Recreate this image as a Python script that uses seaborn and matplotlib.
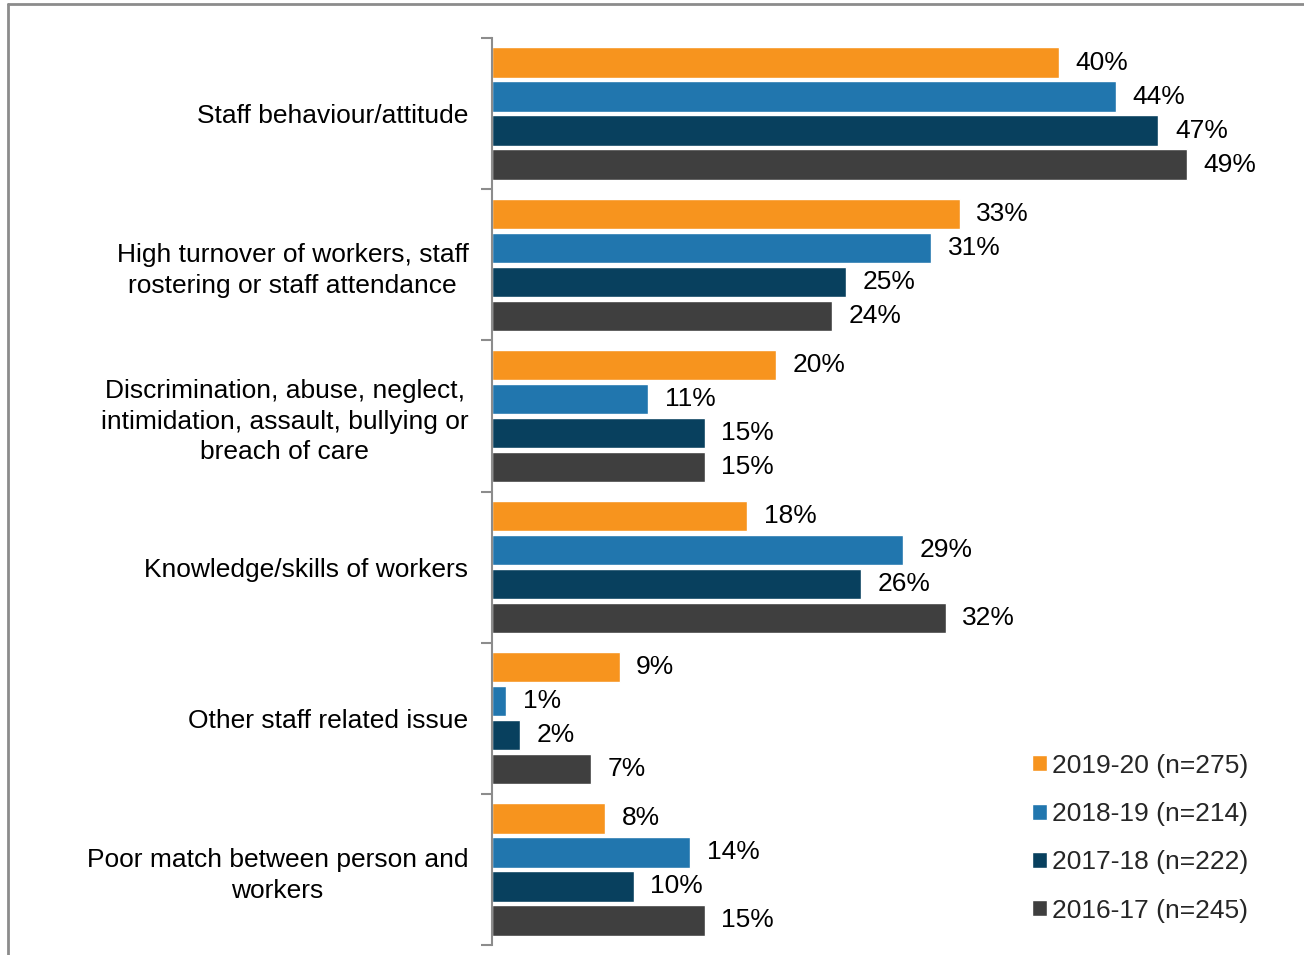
import matplotlib
matplotlib.use("Agg")
import matplotlib.pyplot as plt
from matplotlib.lines import Line2D
import numpy as np
import pandas as pd
import seaborn as sns

categories = [
    "Staff behaviour/attitude",
    "High turnover of workers, staff\nrostering or staff attendance",
    "Discrimination, abuse, neglect,\nintimidation, assault, bullying or\nbreach of care",
    "Knowledge/skills of workers",
    "Other staff related issue",
    "Poor match between person and\nworkers",
]
series = ["2019-20 (n=275)", "2018-19 (n=214)", "2017-18 (n=222)", "2016-17 (n=245)"]
values_2019_20 = [40, 33, 20, 18, 9, 8]
values_2018_19 = [44, 31, 11, 29, 1, 14]
values_2017_18 = [47, 25, 15, 26, 2, 10]
values_2016_17 = [49, 24, 15, 32, 7, 15]
colors = ["#F7941E", "#2176AE", "#08405E", "#3F3F3F"]

all_values = [values_2019_20, values_2018_19, values_2017_18, values_2016_17]
rows = []
for s, vals in zip(series, all_values):
    for c, v in zip(categories, vals):
        rows.append({"category": c, "series": s, "value": v})
df = pd.DataFrame(rows)

sns.set_theme(style="white")
plt.rcParams["font.family"] = ["Liberation Sans", "DejaVu Sans"]

fig = plt.figure(figsize=(13.04, 9.55), dpi=100)
ax = fig.add_axes([492 / 1304, 1 - 945 / 955, (1300 - 492) / 1304, (945 - 38) / 955])

sns.barplot(
    data=df, y="category", x="value", hue="series", order=categories,
    hue_order=series, palette=colors, orient="h", width=0.9, gap=0.11,
    saturation=1, ax=ax, legend=True,
)

for container in ax.containers:
    ax.bar_label(container, labels=[f"{int(v)}%" for v in container.datavalues],
                 padding=12, fontsize=19, color="black")

ax.set_xlim(0, 57)
ax.set_ylim(len(categories) - 0.5, -0.5)
ax.set_xlabel("")
ax.set_ylabel("")
ax.set_xticks([])

# category labels at centres, tick marks at group boundaries
ax.set_yticks(np.arange(len(categories)))
ax.set_yticklabels(categories, fontsize=19, color="black")
for lab in ax.get_yticklabels():
    lab.set_multialignment("center")
    lab.set_linespacing(1.35)
ax.tick_params(axis="y", which="major", length=0, pad=17)
ax.set_yticks(np.arange(len(categories) + 1) - 0.5, minor=True)
ax.tick_params(axis="y", which="minor", length=8, width=1.5, color="#8C8C8C", left=True)

for side in ["top", "right", "bottom"]:
    ax.spines[side].set_visible(False)
ax.spines["left"].set_color("#8C8C8C")
ax.spines["left"].set_linewidth(1.5)

leg = ax.legend(
    loc="lower right", bbox_to_anchor=(0.964, 0.0), frameon=False, fontsize=19,
    handlelength=0.55, handleheight=0.55, handletextpad=0.2, labelspacing=0.92,
    borderaxespad=0.45,
)

# frame lines along the top and left edges of the figure
fig.add_artist(Line2D([8 / 1304, 8 / 1304], [0, 1 - 4 / 955], transform=fig.transFigure,
                      color="#8C8C8C", linewidth=2))
fig.add_artist(Line2D([8 / 1304, 1], [1 - 4 / 955, 1 - 4 / 955], transform=fig.transFigure,
                      color="#8C8C8C", linewidth=2))

fig.savefig("out.png", dpi=100, facecolor="white")
